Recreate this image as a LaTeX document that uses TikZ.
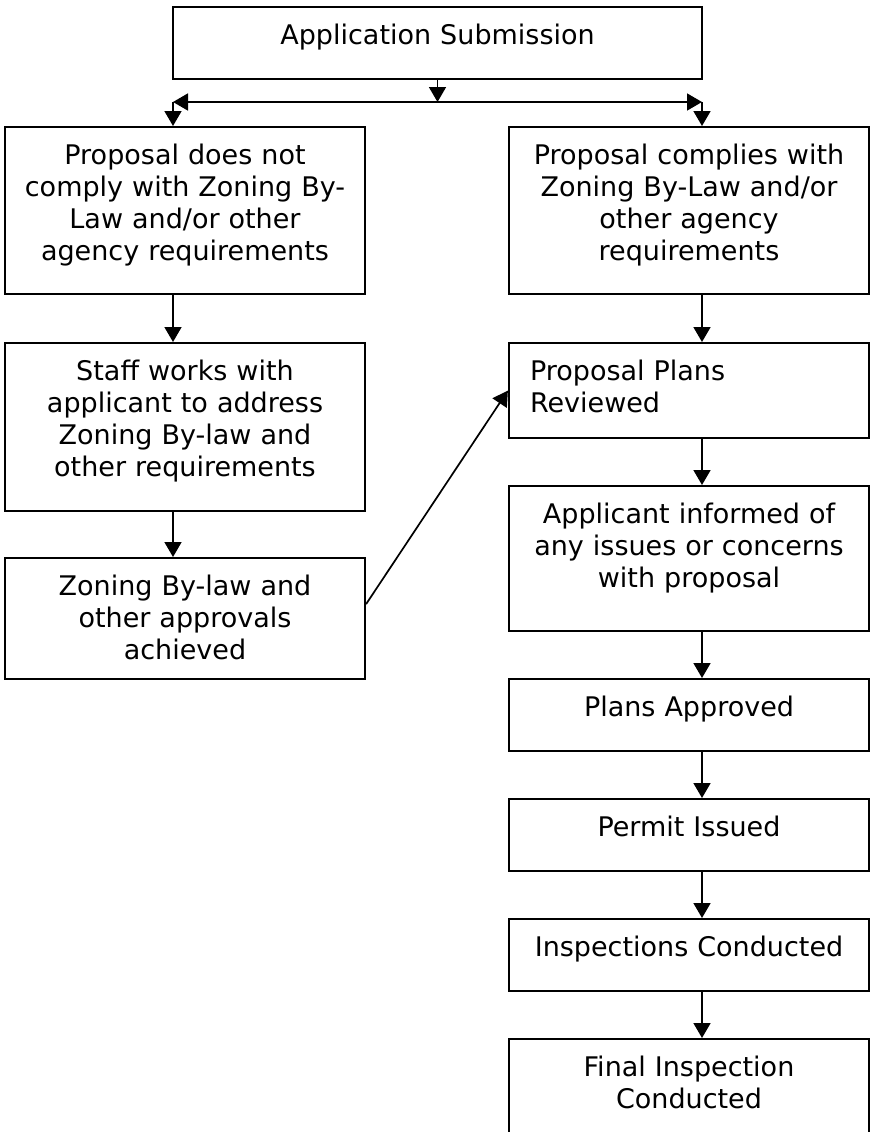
\documentclass[tikz,border=0pt]{standalone}
\usepackage{fontspec}
\setmainfont{DejaVu Sans}
\usepackage{tikz}
\usetikzlibrary{arrows.meta}

\tikzset{
	box/.style={draw, line width=2.2pt, anchor=north, inner sep=0pt,
		minimum width=360pt, text width=330pt, align=center,
		text height=37pt, text depth=#1,
		font=\fontsize{27}{32}\selectfont},
	tip/.tip={Triangle[length=15pt,width=17pt]},
	arr/.style={-tip, line width=1.7pt},
}

\begin{document}
\begin{tikzpicture}[x=1pt, y=-1pt]
	\useasboundingbox (0,0) rectangle (871,1132);
	\node[box=35pt, minimum width=529pt, text width=499pt] (submit) at (437.5,6) {Application Submission};
	\node[box=130pt] (nocomply) at (185,126) {Proposal does not\\comply with Zoning By-\\Law and/or other\\agency requirements};
	\node[box=131pt] (staff) at (185,342) {Staff works with\\applicant to address\\Zoning By-law and\\other requirements};
	\node[box=84pt] (achieved) at (185,557) {Zoning By-law and\\other approvals\\achieved};
	\node[box=130pt] (comply) at (689,126) {Proposal complies with\\Zoning By-Law and/or\\other agency\\requirements};
	\node[box=58pt, align=left, text width=318pt] (reviewed) at (689,342) {Proposal Plans\\Reviewed};
	\node[box=108pt] (informed) at (689,485) {Applicant informed of\\any issues or concerns\\with proposal};
	\node[box=35pt] (approved) at (689,678) {Plans Approved};
	\node[box=35pt] (permit) at (689,798) {Permit Issued};
	\node[box=35pt] (inspect) at (689,918) {Inspections Conducted};
	\node[box=100pt] (final) at (689,1038) {Final Inspection\\Conducted};
	\coordinate (split) at (437.5,102);
	\coordinate (splitL) at (173,102);
	\coordinate (splitR) at (702,102);
	\draw[arr] (submit.south) -- (split);
	\draw[arr, tip-tip] (splitL) -- (splitR);
	\draw[arr] (splitL) -- (splitL |- nocomply.north);
	\draw[arr] (splitR) -- (splitR |- comply.north);
	\draw[arr] (nocomply.south -| splitL) -- (staff.north -| splitL);
	\draw[arr] (staff.south -| splitL) -- (achieved.north -| splitL);
	\draw[arr] ([yshift=14.5pt]achieved.east) -- (reviewed.west);
	\draw[arr] (comply.south -| splitR) -- (reviewed.north -| splitR);
	\draw[arr] (reviewed.south -| splitR) -- (informed.north -| splitR);
	\draw[arr] (informed.south -| splitR) -- (approved.north -| splitR);
	\draw[arr] (approved.south -| splitR) -- (permit.north -| splitR);
	\draw[arr] (permit.south -| splitR) -- (inspect.north -| splitR);
	\draw[arr] (inspect.south -| splitR) -- (final.north -| splitR);
\end{tikzpicture}
\end{document}
